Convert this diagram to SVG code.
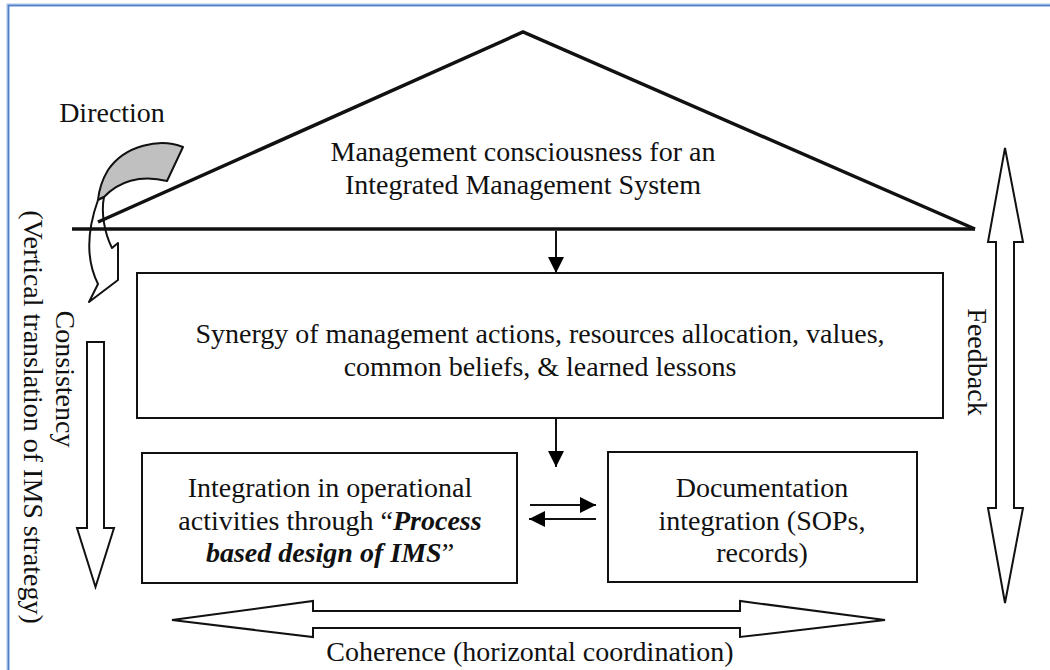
<svg xmlns="http://www.w3.org/2000/svg" width="1050" height="670" viewBox="0 0 1050 670">
  <defs>
    <marker id="headBig" viewBox="0 0 16 16" refX="16" refY="8" markerWidth="16" markerHeight="16" markerUnits="userSpaceOnUse" orient="auto">
      <path d="M0,0 L16,8 L0,16 Z" fill="#000"/>
    </marker>
  </defs>
  <style>
    .t { font-family: 'Liberation Serif', 'DejaVu Serif', serif; font-size: 28px; fill: #111; text-anchor: middle; }
    .box { fill: #fff; stroke: #111; stroke-width: 2; }
    .block { fill: #fff; stroke: #111; stroke-width: 2; stroke-linejoin: miter; }
    .conn { stroke: #111; stroke-width: 2; fill: none; }
    .bi { font-weight: bold; font-style: italic; }
  </style>

  <rect width="1050" height="670" fill="#fff"/>

  <!-- page frame -->
  <g id="frame" fill="none">
    <path d="M8,670 L8,5 L1050,5" stroke="#a9c4e8" stroke-width="3"/>
    <path d="M8.5,670 L8.5,5.5 L1050,5.5" stroke="#4f81c9" stroke-width="1.5"/>
  </g>

  <!-- twisted arrow: direction -->
  <g id="direction-arrow">
    <path d="M183,147 C160,138 125,145 108,170 C102,180 99,190 98,200 L104,197 C118,182 140,174 167,181 Z" fill="#c0c0c0" stroke="#111" stroke-width="2" stroke-linejoin="round"/>
    <path d="M98,200 C88,228 85,258 98,284 L89,302 L118,280 L118,243 L112,248 C104,232 101,212 104,197 Z" fill="#fff" stroke="#111" stroke-width="2" stroke-linejoin="round"/>
  </g>
  <g font-family="Liberation Serif, DejaVu Serif, serif">
  <text class="t" x="112" y="122">Direction</text>

  <!-- roof -->
  <g id="roof">
    <path d="M98,222 L523,32 L975,229" fill="none" stroke="#111" stroke-width="3.5" stroke-linejoin="miter"/>
    <line x1="72" y1="229" x2="975" y2="229" stroke="#111" stroke-width="3.5"/>
    <text class="t" x="523" y="161">Management consciousness for an</text>
    <text class="t" x="523" y="194">Integrated Management System</text>
  </g>

  <!-- synergy box -->
  <g id="synergy">
    <rect class="box" x="137" y="273" width="806" height="145"/>
    <text class="t" x="540" y="343">Synergy of management actions, resources allocation, values,</text>
    <text class="t" x="540" y="376">common beliefs, &amp; learned lessons</text>
  </g>

  <!-- operational integration box -->
  <g id="operational">
    <rect class="box" x="142" y="453" width="375" height="130"/>
    <text class="t" x="330" y="497">Integration in operational</text>
    <text class="t" x="330" y="530">activities through “<tspan class="bi">Process</tspan></text>
    <text class="t" x="330" y="562"><tspan class="bi">based design of IMS</tspan>”</text>
  </g>

  <!-- documentation box -->
  <g id="documentation">
    <rect class="box" x="608" y="452" width="309" height="130"/>
    <text class="t" x="762" y="497">Documentation</text>
    <text class="t" x="762" y="530">integration (SOPs,</text>
    <text class="t" x="762" y="562">records)</text>
  </g>

  <!-- consistency -->
  <g id="consistency">
    <polygon class="block" points="87,342 104,342 104,528 114,528 95.5,587 77,528 87,528"/>
    <text class="t" transform="translate(65,379) rotate(90)" dy="9">Consistency</text>
    <text class="t" transform="translate(33,417) rotate(90)" dy="9">(Vertical translation of IMS strategy)</text>
  </g>

  <!-- feedback -->
  <g id="feedback">
    <polygon class="block" points="1005,148 1023,242 1014,242 1014,508 1023,508 1005,603 988,508 996,508 996,242 988,242"/>
    <text class="t" transform="translate(977,362) rotate(90)" dy="9">Feedback</text>
  </g>

  <!-- coherence -->
  <g id="coherence">
    <polygon class="block" points="172,620 313,601 313,611 740,611 740,601 885,620 740,637 740,628 313,628 313,637"/>
    <text class="t" x="530" y="661">Coherence (horizontal coordination)</text>
  </g>
  </g>

  <!-- connectors -->
  <g id="connectors">
    <line class="conn" x1="556" y1="231" x2="556" y2="273" marker-end="url(#headBig)"/>
    <line class="conn" x1="556" y1="418" x2="556" y2="467" marker-end="url(#headBig)"/>
    <line class="conn" x1="530" y1="505" x2="596" y2="505" marker-end="url(#headBig)"/>
    <line class="conn" x1="596" y1="519" x2="529" y2="519" marker-end="url(#headBig)"/>
  </g>
</svg>
